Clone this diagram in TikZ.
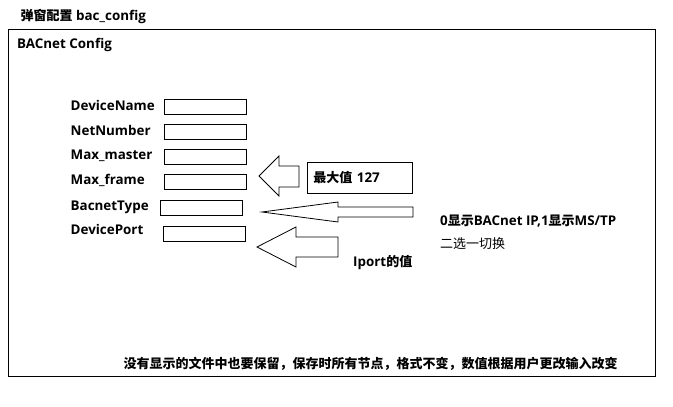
\documentclass[tikz,border=0pt]{standalone}
\usepackage{fontspec}
\setmainfont{Open Sans}[Scale=1.03]
\newfontfamily\cjk{Noto Sans CJK SC}
\usetikzlibrary{positioning}

\begin{document}
\begin{tikzpicture}[x=1pt, y=-1pt,
  lbl/.style={font=\bfseries\fontsize{13}{15}\selectfont, anchor=base west, inner sep=0pt},
  note/.style={font=\fontsize{13}{15}\selectfont, anchor=base west, inner sep=0pt},
  field/.style={draw, line width=0.9pt, minimum width=82pt, minimum height=15pt, inner sep=0pt, anchor=north west},
  blockarrow/.style={draw, line width=0.8pt, line join=miter}
]
  \useasboundingbox (0,0) rectangle (673,407);

  % Window frame and titles
  \node[lbl] (title) at (20.5,20) {{\cjk 弹窗配置} bac\_config};
  \draw[line width=0.9pt] (8,29) rectangle (655,376);
  \node[lbl] (head) at (17,48.5) {BACnet Config};

  % Field labels
  \node[lbl] (l1) at (70.5,110) {DeviceName};
  \node[lbl] (l2) at (70.5,135) {NetNumber};
  \node[lbl] (l3) at (70.5,159.5) {Max\_master};
  \node[lbl] (l4) at (70.5,184.5) {Max\_frame};
  \node[lbl] (l5) at (70.5,210) {BacnetType};
  \node[lbl] (l6) at (70.5,234.5) {DevicePort};

  % Input boxes
  \node[field] (devname) at (164,99) {};
  \node[field] (netnum) at (164,123.5) {};
  \node[field] (maxmaster) at (164,149) {};
  \node[field] (maxframe) at (164,174) {};
  \node[field] (bactype) at (160,200) {};
  \node[field] (devport) at (163,226) {};

  % Block arrows
  \draw[blockarrow] (259,176) -- (279,156) -- (279,166) -- (299,166) -- (299,187)
    -- (279,187) -- (279,196) -- cycle;
  \draw[blockarrow] (262,212) -- (338,202) -- (338,207) -- (413,207) -- (413,217)
    -- (338,217) -- (338,222) -- cycle;
  \draw[blockarrow] (257,247) -- (296,227) -- (296,237) -- (338,237) -- (338,257)
    -- (296,257) -- (296,267) -- cycle;

  % Notes
  \node[draw, line width=0.9pt, minimum width=105pt, minimum height=31pt, anchor=north west,
    inner sep=6pt, text width=93pt, align=left, font=\bfseries\fontsize{13}{15}\selectfont]
    (maxnote) at (307,162) {{\cjk 最大值} 127};
  \node[lbl] (typenote) at (440,225) {0{\cjk 显示}BACnet IP,1{\cjk 显示}MS/TP};
  \node[note] (switchnote) at (440,248.5) {\cjk 二选一切换};
  \node[lbl] (portnote) at (353,266.5) {Iport{\cjk 的值}};
  \node[lbl] (savenote) at (123.5,368) {\cjk 没有显示的文件中也要保留，保存时所有节点，格式不变，数值根据用户更改输入改变};
\end{tikzpicture}
\end{document}
